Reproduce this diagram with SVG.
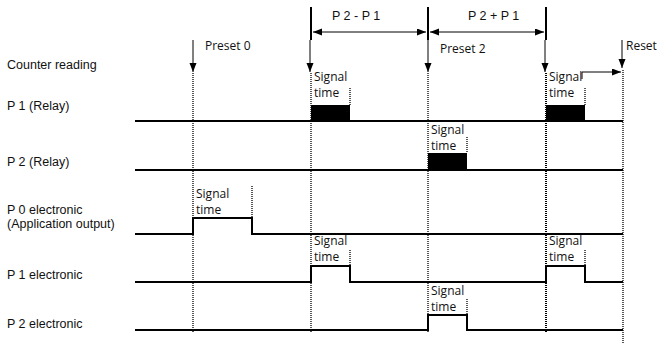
<svg xmlns="http://www.w3.org/2000/svg" width="659" height="345" viewBox="0 0 659 345">
<style>
.lbl{font-family:"Liberation Sans",Arial,sans-serif;font-size:12.5px;fill:#111}
.sm{font-family:"Open Sans","Liberation Sans",sans-serif;font-size:12px;fill:#111}
.pr{font-family:"Open Sans","Liberation Sans",sans-serif;font-size:12px;fill:#111}
.sig{fill:none;stroke:#000;stroke-width:2}
.dot{fill:none;stroke:#000;stroke-width:1.3;stroke-dasharray:1 1}
.thick{stroke:#000;stroke-width:2}
.thin{fill:none;stroke:#000;stroke-width:1}
</style>
<defs>
<marker id="ah" markerUnits="userSpaceOnUse" markerWidth="10" markerHeight="8" refX="9" refY="3.5" orient="auto-start-reverse">
<path d="M0,0 L9,3.5 L0,7 z" fill="#000"/>
</marker>
</defs>
<rect width="659" height="345" fill="#fff"/>

<g id="labels">
<text class="lbl" x="7" y="69">Counter reading</text>
<text class="lbl" x="7" y="110">P 1 (Relay)</text>
<text class="lbl" x="7" y="166">P 2 (Relay)</text>
<text class="lbl" x="7" y="214">P 0 electronic</text>
<text class="lbl" x="7" y="228">(Application output)</text>
<text class="lbl" x="7" y="279">P 1 electronic</text>
<text class="lbl" x="7" y="328">P 2 electronic</text>
</g>

<g id="markers">
<line class="thick" x1="311" y1="7" x2="311" y2="40"/>
<line class="thick" x1="428" y1="7" x2="428" y2="40"/>
<line class="thick" x1="546" y1="7" x2="546" y2="40"/>
<text class="lbl" x="332" y="20">P 2 - P 1</text>
<text class="lbl" x="468" y="20">P 2 + P 1</text>
<text class="pr" x="205" y="50">Preset 0</text>
<text class="pr" x="440" y="53">Preset 2</text>
<text class="pr" x="626" y="50">Reset</text>
</g>

<g id="connectors">
<line class="thin" x1="313" y1="32" x2="426" y2="32" marker-start="url(#ah)" marker-end="url(#ah)"/>
<line class="thin" x1="430" y1="32" x2="544" y2="32" marker-start="url(#ah)" marker-end="url(#ah)"/>
<line class="thin" x1="193" y1="40" x2="193" y2="72" marker-end="url(#ah)"/>
<line class="thin" x1="310" y1="40" x2="310" y2="72" marker-end="url(#ah)"/>
<line class="thin" x1="428" y1="40" x2="428" y2="72" marker-end="url(#ah)"/>
<line class="thin" x1="545" y1="40" x2="545" y2="72" marker-end="url(#ah)"/>
<line class="thin" x1="622" y1="40" x2="622" y2="68" marker-end="url(#ah)"/>
<path class="thin" d="M582,79 V72 H621" marker-end="url(#ah)"/>
</g>

<g id="gridlines">
<line class="dot" x1="193" y1="73" x2="193" y2="332"/>
<line class="dot" x1="311" y1="73" x2="311" y2="332"/>
<line class="dot" x1="428" y1="73" x2="428" y2="332"/>
<line class="dot" x1="546" y1="73" x2="546" y2="332" style="stroke-width:2"/>
<line class="dot" x1="623" y1="70" x2="623" y2="343"/>
<line class="dot" x1="350" y1="88" x2="350" y2="105"/>
<line class="dot" x1="585" y1="88" x2="585" y2="105"/>
<line class="dot" x1="467" y1="137" x2="467" y2="153"/>
<line class="dot" x1="252" y1="186" x2="252" y2="217"/>
<line class="dot" x1="350" y1="250" x2="350" y2="266"/>
<line class="dot" x1="585" y1="250" x2="585" y2="266"/>
<line class="dot" x1="467" y1="299" x2="467" y2="315"/>
</g>

<g id="p1-relay">
<line class="sig" x1="135" y1="121" x2="623" y2="121"/>
<rect x="311" y="105" width="39" height="16" fill="#000"/>
<rect x="546" y="105" width="39" height="16" fill="#000"/>
<text class="sm" x="314" y="81">Signal</text>
<text class="sm" x="314" y="97">time</text>
<text class="sm" x="549" y="81">Signal</text>
<text class="sm" x="549" y="97">time</text>
</g>

<g id="p2-relay">
<line class="sig" x1="135" y1="170" x2="623" y2="170"/>
<rect x="428" y="153" width="39" height="17" fill="#000"/>
<text class="sm" x="431" y="134">Signal</text>
<text class="sm" x="431" y="150">time</text>
</g>

<g id="p0-electronic">
<path class="sig" d="M135,234 H193 V218 H252 V234 H623"/>
<text class="sm" x="196" y="198">Signal</text>
<text class="sm" x="196" y="214">time</text>
</g>

<g id="p1-electronic">
<path class="sig" d="M135,282 H311 V266 H350 V282 H546 V266 H585 V282 H623"/>
<text class="sm" x="314" y="245">Signal</text>
<text class="sm" x="314" y="261">time</text>
<text class="sm" x="549" y="245">Signal</text>
<text class="sm" x="549" y="261">time</text>
</g>

<g id="p2-electronic">
<path class="sig" d="M135,330 H428 V315 H467 V330 H623"/>
<text class="sm" x="431" y="295">Signal</text>
<text class="sm" x="431" y="311">time</text>
</g>
</svg>
